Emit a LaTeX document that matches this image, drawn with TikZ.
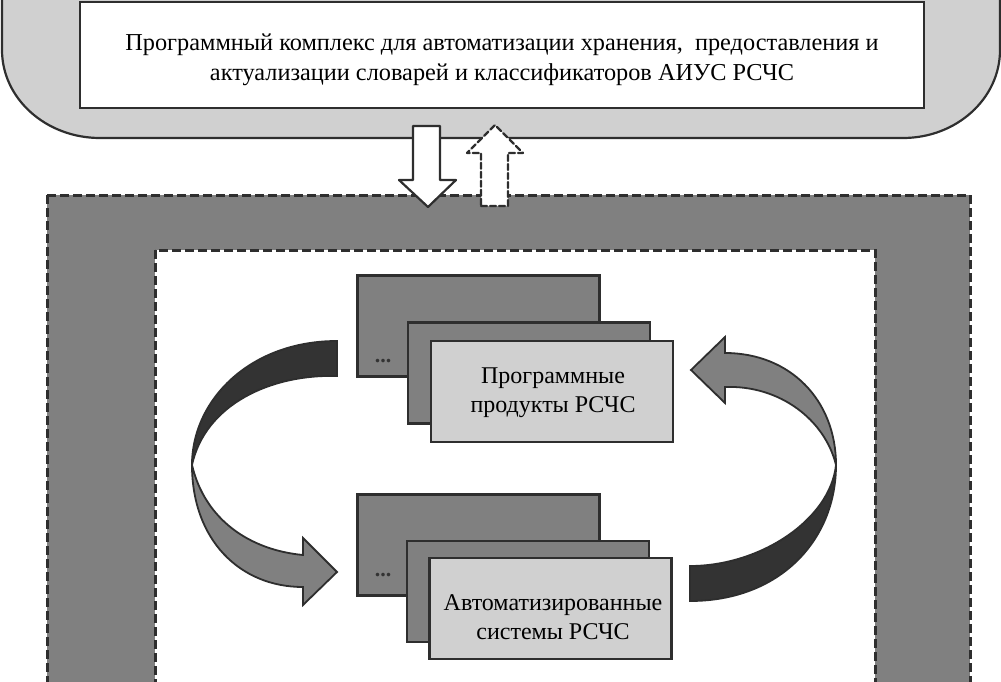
\documentclass[tikz,border=0pt]{standalone}
\usepackage{fontspec}
\setmainfont{Liberation Serif}
\usepackage{tkz-euclide}
\usepackage{tikz}

\definecolor{ribbon}{HTML}{333333}
\definecolor{midgray}{HTML}{808080}
\definecolor{palegray}{HTML}{D0D0D0}
\definecolor{edge}{HTML}{2E2E2E}

\begin{document}
\begin{tikzpicture}[x=1pt, y=-1pt,
    card/.style={draw=edge, line width=2.7pt, minimum width=242pt, minimum height=101pt, inner sep=0pt},
    backcard/.style={card, fill=midgray},
    frontcard/.style={card, fill=palegray},
    cardtext/.style={align=center, font=\fontsize{24}{29}\selectfont},
    dots/.style={font=\fontsize{22}{22}\selectfont\bfseries, text=ribbon},
    ribbonback/.style={draw=edge, line width=1.8pt, fill=ribbon},
    ribbonfront/.style={draw=edge, line width=1.8pt, fill=midgray}]
    \useasboundingbox (0,0) rectangle (1001,682);
    \draw[draw=edge, line width=2.2pt, fill=palegray] (2,-10) -- (2,50) .. controls (2,98.6) and (45.9,138) .. (100,138)
        -- (903,138) .. controls (956.5,138) and (1000,98.6) .. (1000,50) -- (1000,-10);
    \node[draw=edge, line width=2.7pt, fill=white, minimum width=844pt, minimum height=106pt] (titlebox) at (502,55) {};
    \node[align=center, font=\fontsize{24.3}{30}\selectfont] (titletext) at (502,60)
        {Программный комплекс для автоматизации хранения,\ \ предоставления и\\актуализации словарей и классификаторов АИУС РСЧС};
    \draw[draw=edge, line width=3pt, dash pattern=on 9pt off 4pt, fill=midgray] (47,195) rectangle (970,700);
    \draw[draw=edge, line width=3pt, dash pattern=on 9pt off 4pt, fill=white] (155,250) rectangle (875,700);
    \node[backcard] (progback) at (478.5,326) {};
    \node[dots] (progdots) at (383,361) {...};
    \node[backcard] (progmid) at (529,373) {};
    \node[frontcard] (prog) at (552,391.5) {};
    \node[cardtext] (progtext) at (553,393) {Программные\\продукты РСЧС};
    \node[backcard] (sysback) at (478.5,545) {};
    \node[dots] (sysdots) at (383,575) {...};
    \node[backcard] (sysmid) at (528,591.5) {};
    \node[frontcard] (sys) at (550.5,608.5) {};
    \node[cardtext] (systext) at (553,617) {Автоматизированные\\системы РСЧС};
    \draw[ribbonback] (337,341) .. controls (250,341) and (192,400) .. (192,465)
        .. controls (205,405) and (270,374) .. (337,376) -- cycle;
    \draw[ribbonfront] (192,465) .. controls (192,540) and (240,587) .. (303,587) -- (303,605) -- (337,572)
        -- (303,538) -- (303,555) .. controls (250,550) and (205,520) .. (192,465) -- cycle;
    \draw[ribbonback] (690,601) .. controls (780,601) and (836,540) .. (836,465)
        .. controls (830,520) and (760,566) .. (690,566) -- cycle;
    \draw[ribbonfront] (836,465) .. controls (836,400) and (790,353) .. (725,353) -- (725,337) -- (691,370)
        -- (725,403) -- (725,387) .. controls (780,385) and (825,420) .. (836,465) -- cycle;
    \tkzDefPoints{413/126/a,440/126/b,440/180/c,456/180/d,428/207/e,399/180/f,413/180/g}
    \tkzDrawPolygon[draw=edge, fill=white, line width=2.2pt](a,b,c,d,e,f,g)
    \tkzDefPoints{481/206/h,508/206/i,508/153/j,523/153/k,495/125/l,467/153/m,481/153/n}
    \tkzDrawPolygon[draw=edge, fill=white, line width=2.2pt, dash pattern=on 6pt off 3pt](h,i,j,k,l,m,n)
\end{tikzpicture}
\end{document}
